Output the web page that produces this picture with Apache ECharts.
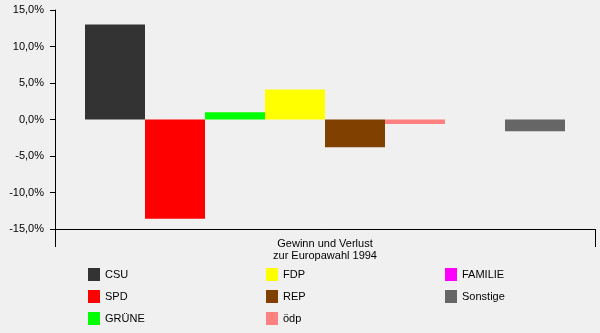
<!DOCTYPE html>
<html>
<head>
<meta charset="utf-8">
<script src="https://cdn.jsdelivr.net/npm/echarts@6/dist/echarts.min.js"></script>
<style>
html,body{margin:0;padding:0;background:#f0f0f0;}
#chart{width:600px;height:333px;}
</style>
</head>
<body>
<div id="chart"></div>
<script>
const categories = ['Gewinn und Verlust\nzur Europawahl 1994'];
const parties = ['CSU', 'SPD', 'GRÜNE', 'FDP', 'REP', 'ödp', 'FAMILIE', 'Sonstige'];
const values = [13.0, -13.6, 1.0, 4.1, -3.8, -0.6, 0.0, -1.6];
const colors = ['#333333', '#ff0000', '#00ff00', '#ffff00', '#804000', '#ff8080', '#ff00ff', '#666666'];
const yTicks = { min: -15, max: 15, interval: 5 };

const chart = echarts.init(document.getElementById('chart'));
const font = 'Liberation Sans, Arial, sans-serif';
const legendBase = {
  orient: 'vertical', icon: 'rect', itemWidth: 12, itemHeight: 13, itemGap: 9,
  textStyle: { fontFamily: font, fontSize: 11, color: '#000', padding: [0, 0, 0, 0] },
  selectedMode: false, padding: 0
};
chart.setOption({
  backgroundColor: '#f0f0f0',
  animation: false,
  grid: { left: 55, right: 5, top: 10, bottom: 104 },
  legend: [
    Object.assign({}, legendBase, { left: 88, top: 268, data: parties.slice(0, 3) }),
    Object.assign({}, legendBase, { left: 266, top: 268, data: parties.slice(3, 6) }),
    Object.assign({}, legendBase, { left: 445, top: 268, data: parties.slice(6, 8) })
  ],
  xAxis: {
    type: 'category', data: categories, boundaryGap: true,
    axisLine: { onZero: false, lineStyle: { color: '#000', width: 1 } },
    axisTick: { show: true, interval: 0, alignWithLabel: false, length: 18, lineStyle: { color: '#000', width: 1 } },
    axisLabel: { margin: 9, fontFamily: font, fontSize: 11, color: '#000', lineHeight: 12 }
  },
  yAxis: {
    type: 'value', min: yTicks.min, max: yTicks.max, interval: yTicks.interval,
    axisLine: { show: true, lineStyle: { color: '#000' } },
    axisTick: { show: true, length: 5, lineStyle: { color: '#000' } },
    splitLine: { show: false },
    axisLabel: {
      margin: 11, fontFamily: font, fontSize: 11, color: '#000',
      formatter: v => v.toFixed(1).replace('.', ',') + '%'
    }
  },
  series: parties.map((p, i) => ({
    name: p, type: 'bar', data: [values[i]], barWidth: 60, barGap: '0%',
    itemStyle: { color: colors[i] }
  }))
});
</script>
</body>
</html>
